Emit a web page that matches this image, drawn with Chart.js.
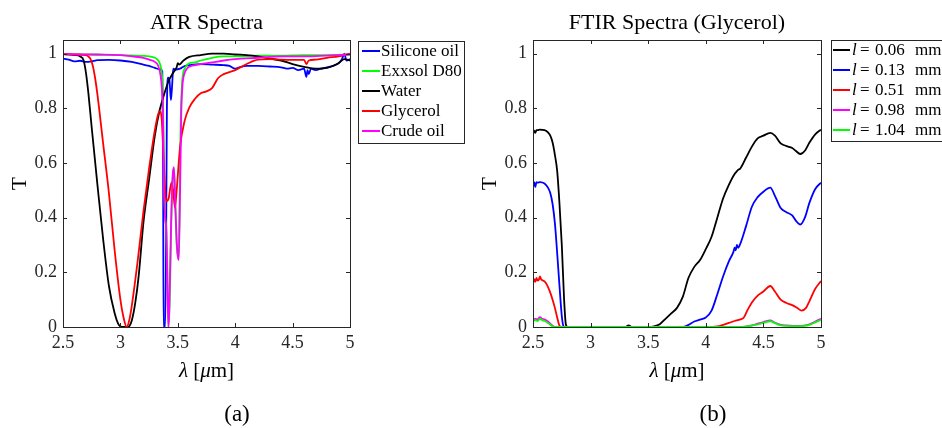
<!DOCTYPE html>
<html><head><meta charset="utf-8">
<script src="https://cdn.jsdelivr.net/npm/chart.js@4.4.1/dist/chart.umd.min.js"></script>
<style>
html,body{margin:0;padding:0;background:#fff;width:942px;height:428px;overflow:hidden}
#ca{position:absolute;left:0;top:0;width:471px;height:428px}
#cb{position:absolute;left:470px;top:0;width:472px;height:428px}
</style></head><body>
<canvas id="ca" width="471" height="428"></canvas>
<canvas id="cb" width="472" height="428"></canvas>
<script>
// ---------- tick labels ----------
const xTicks = [2.5, 3, 3.5, 4, 4.5, 5];
const yTicks = [0, 0.2, 0.4, 0.6, 0.8, 1];

// ---------- (a) ATR spectra ----------
const atrLabels = ['Silicone oil', 'Exxsol D80', 'Water', 'Glycerol', 'Crude oil'];

const siliconeX = [2.5, 2.55, 2.6, 2.65, 2.7, 2.75, 2.8, 2.9, 3.0, 3.1, 3.2, 3.25, 3.3, 3.35, 3.365, 3.372, 3.376, 3.39, 3.398, 3.405, 3.415, 3.428, 3.44, 3.45, 3.46, 3.48, 3.52, 3.56, 3.6, 3.7, 3.8, 3.9, 3.95, 4.0, 4.05, 4.1, 4.2, 4.3, 4.4, 4.45, 4.5, 4.55, 4.6, 4.62, 4.63, 4.64, 4.66, 4.7, 4.75, 4.8, 4.85, 4.9, 4.93, 4.95, 4.97, 5.0];
const siliconeT = [0.982, 0.978, 0.972, 0.974, 0.970, 0.972, 0.976, 0.977, 0.975, 0.970, 0.960, 0.955, 0.948, 0.942, 0.935, 0.6, 0.0, 0.0, 0.3, 0.80, 0.912, 0.90, 0.83, 0.88, 0.945, 0.942, 0.945, 0.955, 0.958, 0.962, 0.960, 0.958, 0.955, 0.945, 0.952, 0.955, 0.955, 0.953, 0.950, 0.945, 0.948, 0.940, 0.945, 0.915, 0.940, 0.925, 0.945, 0.940, 0.945, 0.950, 0.955, 0.965, 0.980, 1.0, 0.975, 0.980];

const exxsolX = [2.5, 2.8, 3.0, 3.1, 3.2, 3.25, 3.3, 3.33, 3.35, 3.36, 3.37, 3.38, 3.39, 3.40, 3.41, 3.418, 3.43, 3.445, 3.46, 3.468, 3.48, 3.49, 3.5, 3.508, 3.515, 3.525, 3.535, 3.545, 3.56, 3.58, 3.6, 3.65, 3.7, 3.8, 3.9, 4.0, 4.2, 4.4, 4.6, 4.8, 5.0];
const exxsolT = [0.998, 0.996, 0.995, 0.994, 0.992, 0.990, 0.985, 0.975, 0.955, 0.93, 0.86, 0.6, 0.4, 0.36, 0.2, 0.0, 0.1, 0.42, 0.57, 0.58, 0.42, 0.3, 0.26, 0.25, 0.45, 0.75, 0.88, 0.925, 0.945, 0.958, 0.965, 0.968, 0.975, 0.985, 0.990, 0.990, 0.993, 0.993, 0.995, 0.995, 0.997];

const waterX = [2.5, 2.6, 2.65, 2.68, 2.7, 2.72, 2.75, 2.8, 2.85, 2.9, 2.95, 2.98, 3.0, 3.03, 3.06, 3.08, 3.1, 3.13, 3.16, 3.2, 3.25, 3.3, 3.34, 3.38, 3.42, 3.46, 3.49, 3.5, 3.51, 3.55, 3.6, 3.7, 3.8, 3.9, 4.0, 4.1, 4.2, 4.3, 4.4, 4.5, 4.6, 4.7, 4.8, 4.85, 4.9, 4.95, 5.0];
const waterT = [0.998, 0.995, 0.990, 0.975, 0.93, 0.86, 0.73, 0.52, 0.32, 0.15, 0.05, 0.012, 0.002, 0.0, 0.0, 0.005, 0.025, 0.09, 0.19, 0.38, 0.54, 0.70, 0.79, 0.85, 0.90, 0.93, 0.95, 0.965, 0.96, 0.975, 0.988, 0.995, 1.0, 1.0, 0.997, 0.995, 0.990, 0.982, 0.975, 0.962, 0.952, 0.945, 0.948, 0.955, 0.965, 0.980, 0.975];

const glycerolX = [2.5, 2.6, 2.7, 2.72, 2.74, 2.76, 2.78, 2.8, 2.85, 2.9, 2.95, 3.0, 3.03, 3.055, 3.08, 3.1, 3.15, 3.2, 3.25, 3.3, 3.33, 3.345, 3.36, 3.38, 3.40, 3.42, 3.445, 3.46, 3.475, 3.49, 3.52, 3.56, 3.6, 3.65, 3.7, 3.75, 3.8, 3.85, 3.9, 4.0, 4.1, 4.2, 4.3, 4.4, 4.5, 4.6, 4.62, 4.64, 4.7, 4.8, 4.9, 4.95, 5.0];
const glycerolT = [0.998, 0.997, 0.995, 0.990, 0.980, 0.955, 0.91, 0.85, 0.67, 0.49, 0.28, 0.10, 0.03, 0.0, 0.03, 0.08, 0.24, 0.42, 0.58, 0.72, 0.78, 0.79, 0.76, 0.58, 0.46, 0.47, 0.528, 0.50, 0.436, 0.50, 0.66, 0.755, 0.803, 0.835, 0.855, 0.862, 0.875, 0.91, 0.925, 0.94, 0.962, 0.978, 0.980, 0.978, 0.977, 0.977, 0.962, 0.975, 0.978, 0.985, 0.990, 0.995, 1.0];

const crudeX = [2.5, 2.8, 3.0, 3.1, 3.2, 3.25, 3.3, 3.33, 3.35, 3.36, 3.37, 3.38, 3.39, 3.40, 3.41, 3.418, 3.425, 3.44, 3.455, 3.466, 3.478, 3.49, 3.5, 3.508, 3.52, 3.53, 3.54, 3.56, 3.58, 3.6, 3.65, 3.7, 3.8, 3.9, 4.0, 4.2, 4.4, 4.6, 4.8, 5.0];
const crudeT = [0.998, 0.997, 0.995, 0.990, 0.985, 0.978, 0.970, 0.955, 0.92, 0.88, 0.80, 0.5, 0.4, 0.35, 0.15, 0.0, 0.05, 0.35, 0.55, 0.585, 0.45, 0.32, 0.26, 0.245, 0.5, 0.78, 0.88, 0.93, 0.945, 0.952, 0.958, 0.962, 0.968, 0.975, 0.980, 0.985, 0.990, 0.990, 0.993, 0.997];

// ---------- (b) FTIR spectra (glycerol), path length l in mm ----------
const ftirThickness = ['0.06', '0.13', '0.51', '0.98', '1.04'];

const l006X = [2.5, 2.51, 2.52, 2.53, 2.54, 2.56, 2.6, 2.63, 2.65, 2.67, 2.69, 2.71, 2.73, 2.75, 2.77, 2.785, 2.8, 3.0, 3.3, 3.33, 3.36, 3.5, 3.55, 3.6, 3.65, 3.7, 3.75, 3.8, 3.85, 3.9, 3.95, 4.0, 4.05, 4.1, 4.15, 4.2, 4.25, 4.27, 4.28, 4.3, 4.35, 4.4, 4.45, 4.5, 4.56, 4.6, 4.65, 4.7, 4.75, 4.78, 4.82, 4.86, 4.9, 4.95, 5.0];
const l006T = [0.712, 0.718, 0.710, 0.720, 0.720, 0.722, 0.720, 0.712, 0.700, 0.675, 0.630, 0.570, 0.450, 0.300, 0.100, 0.010, 0.0, 0.0, 0.0, 0.006, 0.0, 0.0, 0.002, 0.010, 0.030, 0.050, 0.070, 0.110, 0.180, 0.220, 0.245, 0.285, 0.330, 0.400, 0.470, 0.520, 0.560, 0.570, 0.575, 0.580, 0.620, 0.660, 0.690, 0.700, 0.710, 0.700, 0.672, 0.662, 0.655, 0.645, 0.633, 0.645, 0.675, 0.705, 0.722];

const l013X = [2.5, 2.51, 2.52, 2.53, 2.54, 2.56, 2.6, 2.63, 2.65, 2.67, 2.69, 2.71, 2.73, 2.75, 2.765, 2.78, 3.0, 3.5, 3.8, 3.85, 3.9, 3.95, 4.0, 4.05, 4.1, 4.15, 4.2, 4.24, 4.25, 4.26, 4.27, 4.28, 4.3, 4.35, 4.4, 4.45, 4.5, 4.56, 4.6, 4.65, 4.7, 4.75, 4.78, 4.82, 4.86, 4.9, 4.95, 5.0];
const l013T = [0.515, 0.530, 0.512, 0.530, 0.528, 0.530, 0.525, 0.510, 0.490, 0.450, 0.380, 0.270, 0.150, 0.040, 0.003, 0.0, 0.0, 0.0, 0.0, 0.008, 0.020, 0.027, 0.035, 0.060, 0.120, 0.185, 0.240, 0.275, 0.290, 0.280, 0.300, 0.290, 0.305, 0.370, 0.440, 0.475, 0.495, 0.510, 0.480, 0.435, 0.420, 0.408, 0.390, 0.375, 0.400, 0.455, 0.505, 0.528];

const l051X = [2.5, 2.51, 2.52, 2.53, 2.54, 2.55, 2.56, 2.57, 2.6, 2.62, 2.645, 2.67, 2.69, 2.71, 2.73, 2.75, 3.0, 4.0, 4.1, 4.15, 4.2, 4.25, 4.3, 4.33, 4.36, 4.4, 4.45, 4.5, 4.56, 4.6, 4.65, 4.7, 4.75, 4.8, 4.83, 4.87, 4.9, 4.95, 5.0];
const l051T = [0.160, 0.175, 0.165, 0.180, 0.170, 0.172, 0.185, 0.175, 0.167, 0.155, 0.131, 0.100, 0.070, 0.035, 0.005, 0.0, 0.0, 0.0, 0.002, 0.008, 0.015, 0.022, 0.028, 0.035, 0.060, 0.090, 0.115, 0.130, 0.150, 0.130, 0.100, 0.088, 0.080, 0.068, 0.060, 0.070, 0.095, 0.140, 0.168];

const l098X = [2.5, 2.52, 2.54, 2.56, 2.58, 2.6, 2.63, 2.66, 2.69, 3.0, 4.0, 4.3, 4.4, 4.45, 4.5, 4.56, 4.6, 4.65, 4.7, 4.8, 4.85, 4.9, 4.95, 5.0];
const l098T = [0.028, 0.030, 0.028, 0.036, 0.030, 0.028, 0.020, 0.008, 0.0, 0.0, 0.0, 0.0, 0.006, 0.012, 0.018, 0.024, 0.016, 0.008, 0.006, 0.004, 0.005, 0.010, 0.020, 0.030];

const l104X = [2.5, 2.52, 2.54, 2.56, 2.58, 2.6, 2.63, 2.66, 2.69, 3.0, 4.0, 4.3, 4.4, 4.45, 4.5, 4.56, 4.6, 4.65, 4.7, 4.8, 4.85, 4.9, 4.95, 5.0];
const l104T = [0.022, 0.025, 0.022, 0.030, 0.025, 0.022, 0.015, 0.005, 0.0, 0.0, 0.0, 0.0, 0.005, 0.010, 0.015, 0.021, 0.014, 0.006, 0.004, 0.003, 0.004, 0.008, 0.017, 0.026];

// ---------- helpers ----------
const FONT = 'Liberation Serif';
const INK = '#262626';
const pts = (xs, ys) => xs.map((x, i) => ({ x: x, y: ys[i] }));
const fmt = v => String(+Number(v).toFixed(2));

function makeDatasets(labels, series, colors) {
  const n = labels.length;
  return labels.map((lab, i) => ({
    label: lab,
    data: pts(series[i][0], series[i][1]),
    borderColor: colors[i],
    backgroundColor: colors[i],
    borderWidth: 1.8,
    pointRadius: 0,
    fill: false,
    cubicInterpolationMode: 'monotone',
    order: n - 1 - i
  }));
}

function drawRich(ctx, parts, x, y, size) {
  let cx = x;
  parts.forEach(([t, it]) => {
    ctx.font = (it ? 'italic ' : '') + size + 'px "' + FONT + '"';
    ctx.fillText(t, cx, y);
    cx += ctx.measureText(t).width;
  });
  return cx;
}
function richWidth(ctx, parts, size) {
  let w = 0;
  parts.forEach(([t, it]) => {
    ctx.font = (it ? 'italic ' : '') + size + 'px "' + FONT + '"';
    w += ctx.measureText(t).width;
  });
  return w;
}

const decor = {
  id: 'decor',
  afterDraw(chart, args, o) {
    const ctx = chart.ctx;
    const a = chart.chartArea;
    const xs = chart.scales.x, ys = chart.scales.y;
    ctx.save();
    // box + inward ticks on all four sides
    ctx.strokeStyle = INK;
    ctx.lineWidth = 1;
    ctx.beginPath();
    const L = 4;
    xs.ticks.forEach(t => {
      const p = Math.round(xs.getPixelForValue(t.value)) + 0.5;
      ctx.moveTo(p, a.bottom); ctx.lineTo(p, a.bottom - L);
      ctx.moveTo(p, a.top); ctx.lineTo(p, a.top + L);
    });
    ys.ticks.forEach(t => {
      const p = Math.round(ys.getPixelForValue(t.value)) + 0.5;
      ctx.moveTo(a.left, p); ctx.lineTo(a.left + L, p);
      ctx.moveTo(a.right, p); ctx.lineTo(a.right - L, p);
    });
    ctx.stroke();
    ctx.strokeRect(Math.round(a.left) + 0.5, Math.round(a.top) + 0.5, Math.round(a.right - a.left), Math.round(a.bottom - a.top));

    ctx.fillStyle = '#000';
    const cx = (a.left + a.right) / 2;
    // title
    ctx.textAlign = 'center';
    ctx.textBaseline = 'alphabetic';
    ctx.font = '22px "' + FONT + '"';
    ctx.fillText(o.title, cx, 28.5);
    // x axis title: λ [μm]
    ctx.textAlign = 'left';
    const xt = [['λ', true], [' [', false], ['μ', true], ['m]', false]];
    const w = richWidth(ctx, xt, 21);
    drawRich(ctx, xt, cx - w / 2, 377, 21);
    // y axis title
    ctx.save();
    ctx.translate(20, (a.top + a.bottom) / 2);
    ctx.rotate(-Math.PI / 2);
    ctx.textAlign = 'center';
    ctx.textBaseline = 'middle';
    ctx.font = '21px "' + FONT + '"';
    ctx.fillText('T', 0, 0);
    ctx.restore();
    // caption
    ctx.textAlign = 'center';
    ctx.textBaseline = 'alphabetic';
    ctx.font = '23px "' + FONT + '"';
    ctx.fillText(o.caption, o.captionX, 421);

    // legend
    const lg = o.legend;
    ctx.fillStyle = '#fff';
    ctx.fillRect(lg.x, lg.y, lg.w, lg.h);
    ctx.strokeStyle = INK;
    ctx.strokeRect(lg.x + 0.5, lg.y + 0.5, lg.w, lg.h);
    chart.data.datasets.forEach((ds, i) => {
      const yy = lg.row0 + i * lg.dy;
      ctx.strokeStyle = ds.borderColor;
      ctx.lineWidth = 2;
      ctx.beginPath();
      ctx.moveTo(lg.lx0, yy); ctx.lineTo(lg.lx1, yy);
      ctx.stroke();
      ctx.fillStyle = '#000';
      ctx.textAlign = 'left';
      ctx.textBaseline = 'middle';
      if (o.thickness) {
        ctx.font = 'italic 17px "' + FONT + '"';
        ctx.fillText('l', lg.tx + 1, yy + 1);
        ctx.font = '17px "' + FONT + '"';
        ctx.fillText('=', lg.tx + 9, yy + 1);
        ctx.fillText(ds.label, lg.tx + 24, yy + 1);
        ctx.fillText('mm', lg.tx + 64, yy + 1);
      } else {
        ctx.font = '17px "' + FONT + '"';
        ctx.fillText(ds.label, lg.tx, yy + 1);
      }
    });
    ctx.restore();
  }
};

function makeChart(id, datasets, decorOpts) {
  return new Chart(document.getElementById(id), {
    type: 'line',
    data: { datasets: datasets },
    options: {
      responsive: false,
      animation: false,
      devicePixelRatio: 1,
      events: [],
      layout: { padding: { left: 0, right: decorOpts.padRight, top: 40, bottom: 0 } },
      plugins: { legend: { display: false }, tooltip: { enabled: false }, decor: decorOpts },
      scales: {
        x: {
          type: 'linear', min: 2.5, max: 5,
          afterBuildTicks: s => { s.ticks = xTicks.map(v => ({ value: v })); },
          afterFit: s => { s.height = 101; },
          ticks: { color: INK, font: { family: FONT, size: 18 }, padding: 5, maxRotation: 0, autoSkip: false, callback: v => fmt(v) },
          grid: { display: true, drawOnChartArea: false, drawTicks: false },
          border: { display: false }
        },
        y: {
          type: 'linear', min: 0, max: 1.05,
          afterBuildTicks: s => { s.ticks = yTicks.map(v => ({ value: v })); },
          afterFit: s => { s.width = 63; },
          ticks: { color: INK, font: { family: FONT, size: 18 }, padding: 6, callback: v => fmt(v) },
          grid: { display: true, drawOnChartArea: false, drawTicks: false },
          border: { display: false }
        }
      }
    },
    plugins: [decor]
  });
}

makeChart('ca',
  makeDatasets(atrLabels,
    [[siliconeX, siliconeT], [exxsolX, exxsolT], [waterX, waterT], [glycerolX, glycerolT], [crudeX, crudeT]],
    ['#0000ff', '#00ff00', '#000000', '#ff0000', '#ff00ff']),
  { padRight: 121, title: 'ATR Spectra', caption: '(a)', captionX: 237,
    legend: { x: 358, y: 41, w: 106, h: 102, row0: 51, dy: 20, lx0: 362, lx1: 380, tx: 381 } });

makeChart('cb',
  makeDatasets(ftirThickness,
    [[l006X, l006T], [l013X, l013T], [l051X, l051T], [l098X, l098T], [l104X, l104T]],
    ['#000000', '#0000ff', '#ff0000', '#ff00ff', '#00ff00']),
  { padRight: 121, title: 'FTIR Spectra (Glycerol)', caption: '(b)', captionX: 243, thickness: true,
    legend: { x: 361, y: 40, w: 130, h: 101, row0: 50, dy: 20, lx0: 363, lx1: 380, tx: 381 } });
</script></body></html>
